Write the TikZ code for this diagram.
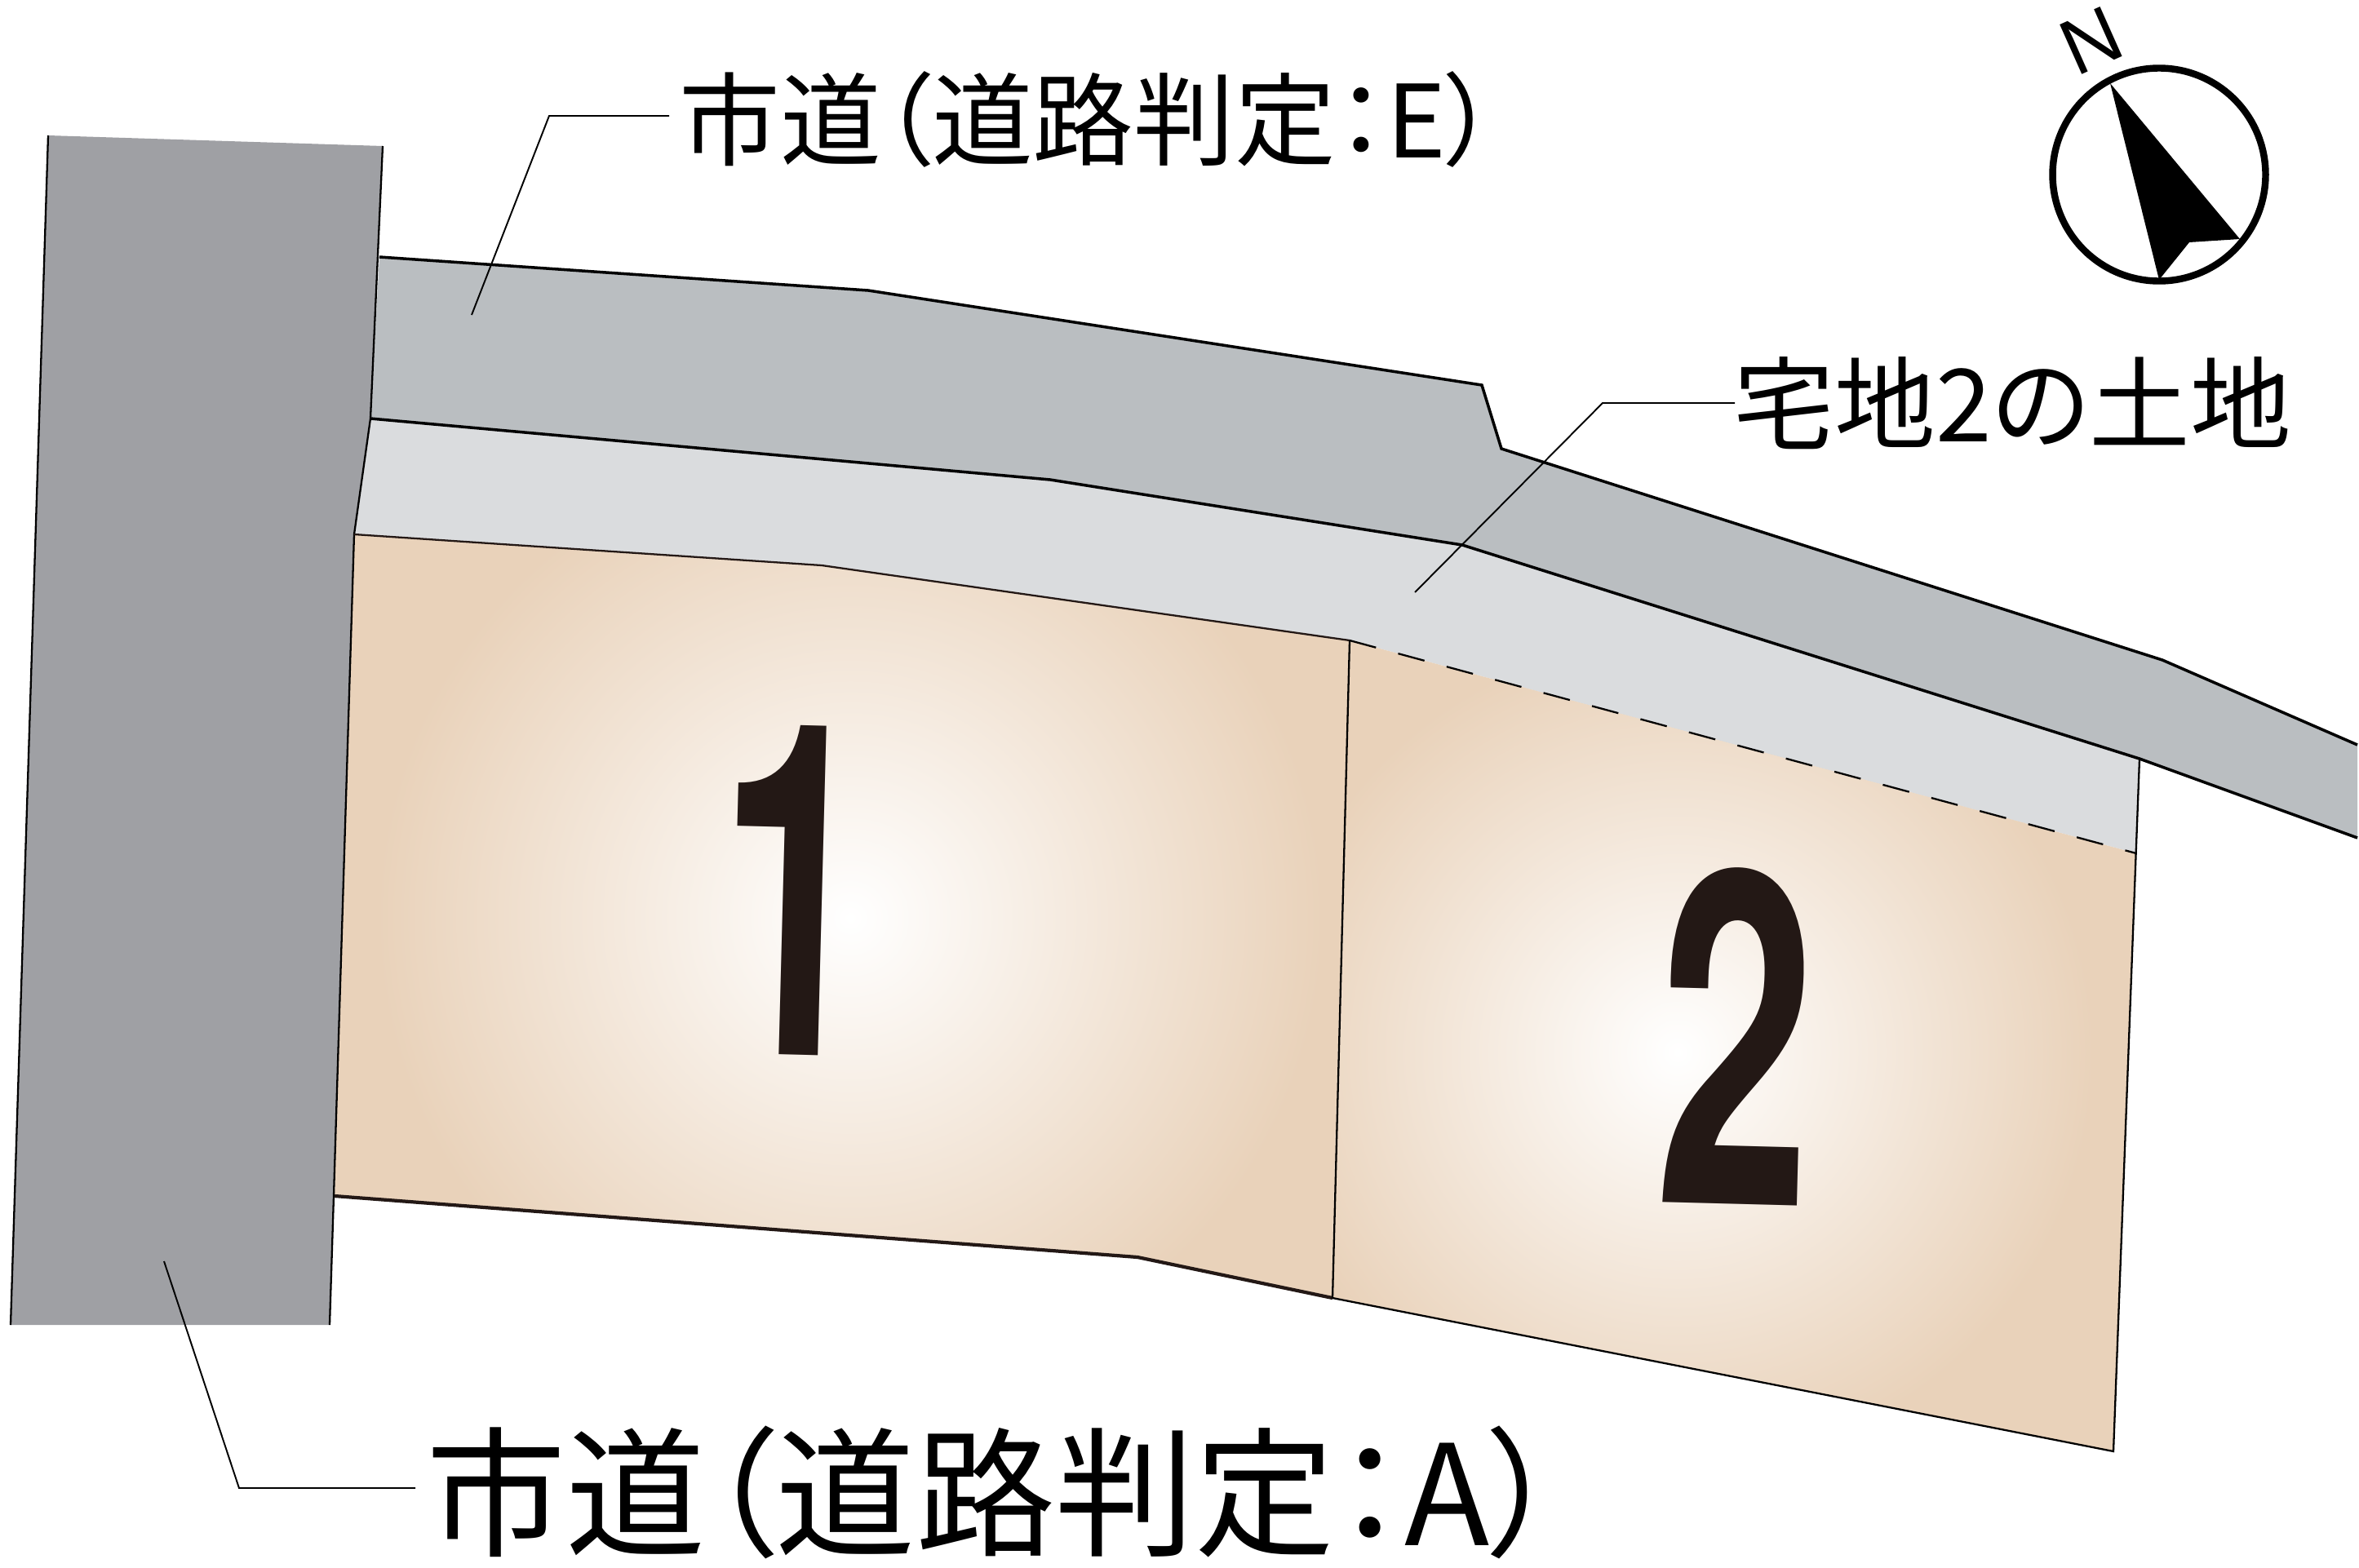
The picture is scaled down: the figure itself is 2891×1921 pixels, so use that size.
\documentclass[tikz,border=0pt]{standalone}
\usepackage{fontspec}
\newfontfamily\jpfont[RawFeature=+palt]{Noto Sans CJK JP}
\newfontfamily\numfont[FakeStretch=0.6]{TeX Gyre Heros}
\setmainfont{Liberation Sans}
\definecolor{roadA}{HTML}{9FA0A4}
\definecolor{roadE}{HTML}{BABEC1}
\definecolor{band}{HTML}{DADCDE}
\definecolor{lottan}{HTML}{E9D2BA}
\definecolor{numink}{HTML}{231815}
\tikzset{
	edge/.style={line width=1pt},
	thinedge/.style={line width=.65pt},
	leader/.style={line width=.55pt},
	small label/.style={anchor=west, inner sep=0pt, font=\jpfont\fontsize{35.2}{40}\selectfont},
	big label/.style={anchor=west, inner sep=0pt, font=\jpfont\fontsize{48.7}{54}\selectfont},
	lotnum/.style={text=numink, inner sep=0pt, font=\numfont\bfseries\fontsize{162}{170}\selectfont, rotate=-1.5},
}

\begin{document}
\begin{tikzpicture}[x=.01cm,y=-.01cm]
\useasboundingbox (0,0) rectangle (2891,1921);

% the roads
\fill[band] (454,513) -- (1287,588) -- (1792,668) -- (2622,930) -- (2618,1046) -- (1654,785) -- (1007,693) -- (434,655) -- cycle;
\fill[roadE] (465,315) -- (1064,356) -- (1816,472) -- (1840,550) -- (2650,809) -- (2889,913) -- (2889,1027) -- (2622,930) -- (1792,668) -- (1287,588) -- (454,513) -- cycle;
\fill[roadA] (59,166) -- (469,179) -- (454,513) -- (434,655) -- (409,1466) -- (404,1624) -- (13,1624) -- cycle;

% the lots
\begin{scope}
\clip (434,655) -- (1007,693) -- (1654,785) -- (1631,1591) -- (1394,1541) -- (410,1466) -- cycle;
\fill[lottan] (400,640) rectangle (1660,1600);
\shade[inner color=white, outer color=lottan] (1042,1125) circle (580);
\end{scope}
\begin{scope}
\clip (1654,785) -- (2618,1046) -- (2590,1779) -- (1631,1591) -- cycle;
\fill[lottan] (1620,780) rectangle (2630,1790);
\shade[inner color=white, outer color=lottan] (2056,1290) circle (510);
\end{scope}

% the outlines
\draw[thinedge] (59,166) -- (13,1624);
\draw[thinedge] (469,179) -- (454,513) -- (434,655) -- (409,1466) -- (404,1624);
\draw[edge] (465,315) -- (1064,356) -- (1816,472) -- (1840,550) -- (2650,809) -- (2889,913);
\draw[edge] (454,513) -- (1287,588) -- (1792,668) -- (2622,930) -- (2889,1027);
\draw[thinedge, numink] (434,655) -- (1007,693) -- (1654,785);
\draw[edge, numink, line width=1.2pt] (410,1466) -- (1394,1541) -- (1633,1591);
\draw[thinedge] (1633,1591) -- (2590,1779) -- (2622,930);
\draw[thinedge] (1654,785) -- (1633,1591);
\draw[thinedge, dash pattern=on 9.5pt off 8pt] (1654,785) -- (2618,1046);

% the numbers
\node[lotnum] (one) at (974,1091) {1};
\node[lotnum] (two) at (2128,1270) {2};

% the labels
\node[small label] (lblE) at (832,146) {市道（道路判定：E）};
\node[small label] (lblhome) at (2124,494) {宅地2の土地};
\node[big label] (lblA) at (522,1829) {市道（道路判定：A）};

% the leaders
\coordinate (ptE) at (578,386);
\coordinate (bendE) at (673,142);
\coordinate (pthome) at (1734,726);
\coordinate (bendhome) at (1964,494);
\coordinate (ptA) at (201,1546);
\coordinate (bendA) at (293,1824);
\coordinate (endE) at (820,142);
\coordinate (endhome) at (2126,494);
\coordinate (endA) at (509,1824);
\draw[leader] (ptE) -- (bendE) -- (endE);
\draw[leader] (pthome) -- (bendhome) -- (endhome);
\draw[leader] (ptA) -- (bendA) -- (endA);

% the north mark
\node[inner sep=0pt] (north) at (2563,50) [rotate=24, font=\fontsize{27.5}{30}\selectfont] {N};
\draw[line width=2.4pt] (2646,214) circle (130.5);
\fill (2586,102) -- (2745,293) -- (2683,297) -- (2646,343) -- cycle;
\end{tikzpicture}
\end{document}
